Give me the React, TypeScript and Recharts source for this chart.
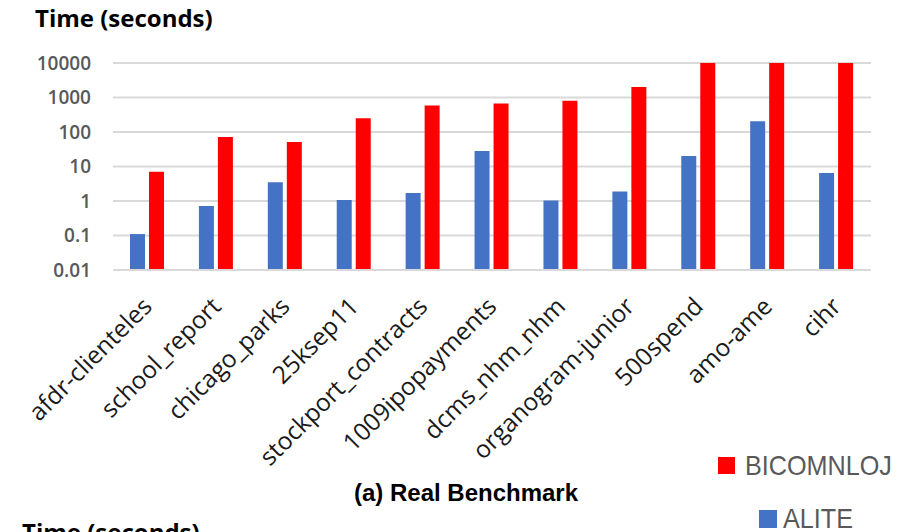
import React from "react";
import { BarChart, Bar, XAxis, YAxis, CartesianGrid, Legend } from "recharts";

const DATASETS = [
  "afdr-clienteles",
  "school_report",
  "chicago_parks",
  "25ksep11",
  "stockport_contracts",
  "1009ipopayments",
  "dcms_nhm_nhm",
  "organogram-junior",
  "500spend",
  "amo-ame",
  "cihr",
];
const ALITE = [0.11, 0.72, 3.5, 1.07, 1.7, 28, 1.03, 1.9, 20, 205, 6.5];
const BICOMNLOJ = [7, 72, 51, 250, 590, 665, 810, 2030, 10000, 10000, 10000];
const Y_TICKS = [0.01, 0.1, 1, 10, 100, 1000, 10000];

const SERIES = [
  { key: "BICOMNLOJ", color: "#FF0000" },
  { key: "ALITE", color: "#4472C4" },
];

const data = DATASETS.map((name, i) => ({
  name,
  ALITE: ALITE[i],
  BICOMNLOJ: BICOMNLOJ[i],
}));

const FONT = "'Open Sans', 'DejaVu Sans', sans-serif";
const ARIAL = "'Liberation Sans', Arial, sans-serif";

function CategoryTick({ x, y, payload }: any) {
  return (
    <g transform={`translate(${x + 6},${y + 30})`}>
      <text
        transform="rotate(-45)"
        textAnchor="end"
        fontFamily={FONT}
        fontSize={24.5}
        fill="#1a1a1a"
      >
        {payload.value}
      </text>
    </g>
  );
}

// legend in the lower right corner, red entry above blue, squeezed text
function SideLegend() {
  const rows = [
    { ...SERIES[0], sx: 718, sy: 457, size: 17, tx: 745, ty: 475 },
    { ...SERIES[1], sx: 759, sy: 510, size: 18, tx: 783, ty: 528 },
  ];
  return (
    <svg
      width={912}
      height={532}
      style={{ position: "absolute", left: 0, top: 0, pointerEvents: "none" }}
    >
      {rows.map((r) => (
        <g key={r.key}>
          <rect x={r.sx} y={r.sy} width={r.size} height={r.size} fill={r.color} />
          <text
            transform={`translate(${r.tx},${r.ty}) scale(0.9,1)`}
            fontFamily={ARIAL}
            fontSize={28}
            fill="#595959"
          >
            {r.key}
          </text>
        </g>
      ))}
    </svg>
  );
}

export default function App() {
  return (
    <div style={{ position: "absolute", left: 0, top: 0, width: 912, height: 532, background: "#fff", overflow: "hidden" }}>
      <BarChart
        width={912}
        height={532}
        data={data}
        margin={{ top: 63, right: 41, bottom: 0, left: 13 }}
        barSize={15}
        barGap={4}
      >
        <CartesianGrid vertical={false} stroke="#d9d9d9" strokeWidth={2} />
        <XAxis
          dataKey="name"
          height={262}
          interval={0}
          axisLine={{ stroke: "#d9d9d9", strokeWidth: 2 }}
          tickLine={false}
          tick={<CategoryTick />}
        />
        <YAxis
          scale="log"
          domain={[0.01, 10000]}
          ticks={Y_TICKS}
          allowDataOverflow
          width={100}
          axisLine={false}
          tickLine={false}
          tickSize={0}
          tickMargin={22}
          tick={{ fontFamily: FONT, fontSize: 19, fontWeight: 600, fill: "#595959" }}
        />
        <Bar dataKey="ALITE" fill="#4472C4" isAnimationActive={false} />
        <Bar dataKey="BICOMNLOJ" fill="#FF0000" isAnimationActive={false} />
        <Legend content={() => null} />
      </BarChart>
      <svg
        width={912}
        height={532}
        style={{ position: "absolute", left: 0, top: 0, pointerEvents: "none" }}
      >
        <text x={35} y={27} fontFamily={FONT} fontWeight={700} fontSize={24} fill="#000">
          Time (seconds)
        </text>
        <text x={466} y={501} textAnchor="middle" fontFamily={ARIAL} fontWeight={700} fontSize={24} fill="#000">
          (a) Real Benchmark
        </text>
        {/* heading of the next panel, only its top shows */}
        <text x={22} y={541} fontFamily={FONT} fontWeight={700} fontSize={24} fill="#000">
          Time (seconds)
        </text>
      </svg>
      <SideLegend />
    </div>
  );
}
